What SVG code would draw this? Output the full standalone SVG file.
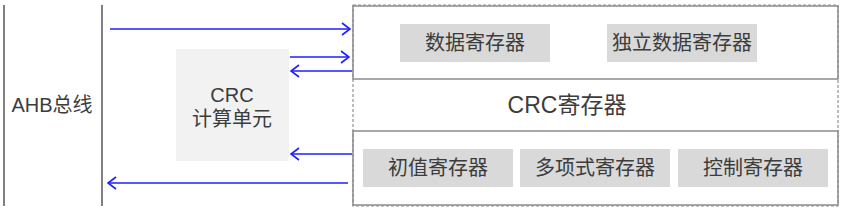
<svg xmlns="http://www.w3.org/2000/svg" width="844" height="212" viewBox="0 0 844 212">
<defs>
<marker id="ah" viewBox="0 0 10 14" refX="9" refY="7" markerWidth="10" markerHeight="14" markerUnits="userSpaceOnUse" orient="auto">
<path d="M1,1 L9,7 L1,13" fill="none" stroke="#1f1fff" stroke-width="1.6"/>
</marker>
<style>
text{font-family:"Liberation Sans","Noto Sans CJK SC",sans-serif;fill:#3c3c3c;text-anchor:middle}
.bus{stroke:#808080;stroke-width:2}
.reg{fill:#d9d9d9}
.rt{font-size:20px}
.big{font-size:20px}
.conn line{stroke:#1f1fff;stroke-width:1.6;marker-end:url(#ah)}
</style>
</defs>
<rect width="844" height="212" fill="#ffffff"/>
<g id="bus">
<line class="bus" x1="4" y1="5" x2="4" y2="206"/>
<line class="bus" x1="102" y1="5" x2="102" y2="206"/>
<text class="big" x="52" y="112">AHB总线</text>
</g>
<g id="crc-unit">
<rect x="176" y="49" width="113" height="112" fill="#f2f2f2"/>
<text class="big" x="232" y="102">CRC</text>
<text class="big" x="232" y="126">计算单元</text>
</g>
<g id="crc-regs">
<rect x="353" y="5" width="485" height="201" fill="none" stroke="#909090" stroke-width="1.2" stroke-dasharray="3,2"/>
<text x="567" y="113" style="font-size:23px">CRC寄存器</text>
</g>
<g id="top-group">
<rect x="353" y="6" width="485" height="73" fill="none" stroke="#8c8c8c" stroke-width="1.5"/>
</g>
<g id="data-reg">
<rect class="reg" x="400" y="24" width="150" height="38"/>
<text class="rt" x="475" y="50">数据寄存器</text>
</g>
<g id="idr-reg">
<rect class="reg" x="607" y="24" width="150" height="38"/>
<text class="rt" x="682" y="50">独立数据寄存器</text>
</g>
<g id="bottom-group">
<rect x="353" y="131" width="485" height="74" fill="none" stroke="#8c8c8c" stroke-width="1.5"/>
</g>
<g id="init-reg">
<rect class="reg" x="363" y="149" width="150" height="38"/>
<text class="rt" x="438" y="175">初值寄存器</text>
</g>
<g id="poly-reg">
<rect class="reg" x="520" y="149" width="150" height="38"/>
<text class="rt" x="595" y="175">多项式寄存器</text>
</g>
<g id="ctrl-reg">
<rect class="reg" x="678" y="149" width="150" height="38"/>
<text class="rt" x="753" y="175">控制寄存器</text>
</g>
<g class="conn" id="connectors">
<line x1="110" y1="29" x2="350" y2="29"/>
<line x1="290" y1="57" x2="349" y2="57"/>
<line x1="352" y1="71" x2="291" y2="71"/>
<line x1="352" y1="154" x2="291" y2="154"/>
<line x1="348" y1="183" x2="108" y2="183"/>
</g>
</svg>
